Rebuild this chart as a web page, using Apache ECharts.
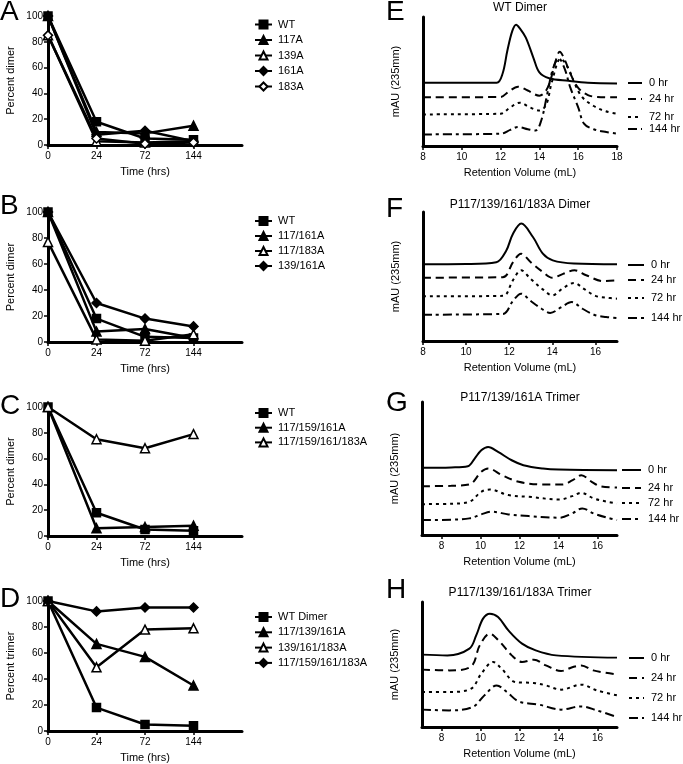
<!DOCTYPE html>
<html>
<head>
<meta charset="utf-8">
<script src="https://cdn.jsdelivr.net/npm/echarts@6/dist/echarts.min.js"></script>
<style>
html, body { margin: 0; padding: 0; background: #fff; }
#main { width: 683px; height: 764px; }
</style>
</head>
<body>
<div id="main"></div>
<script>
// time points for the left panels (last slot is the empty end of the axis)
var timeLabels = ['0', '24', '72', '144', ''];
var hourLabels = ['0 hr', '24 hr', '72 hr', '144 hr'];
var fTicks = [8, 10, 12, 14, 16];
var eTicks = [8, 10, 12, 14, 16, 18];

// A: single mutants, percent dimer
var aWT = [100, 18, 5, 4];
var a117 = [100, 10, 9, 15];
var a139 = [85, 3, 2, 3];
var a161 = [100, 8, 11, 3];
var a183 = [85, 5, 1, 2];

// B: double mutants
var bWT = [100, 18, 4, 3];
var b117161 = [100, 8, 10, 3];
var b117183 = [77, 2, 1, 6];
var b139161 = [100, 30, 18, 12];

// C: triple / quadruple
var cWT = [100, 18, 5, 4];
var c117159161 = [100, 6, 7, 8];
var c117159161183 = [100, 75, 68, 79];

// D: percent trimer
var dWT = [100, 18, 5, 4];
var d117139161 = [100, 67, 57, 35];
var d139161183 = [100, 49, 78, 79];
var d117159161183 = [100, 92, 95, 95];

// E: WT dimer chromatograms  [mL, signal]
var e0 = [[8, 49], [11.8, 49], [12.1, 56], [12.35, 74], [12.6, 89], [12.8, 94], [13.0, 91], [13.3, 84], [13.7, 68], [14.0, 57], [14.5, 52.5], [15.5, 50.5], [16.5, 49], [18, 48.5]];
var e24 = [[8, 37.7], [12.0, 38], [12.4, 42], [12.9, 46], [13.4, 43], [14.0, 39], [14.3, 42], [14.55, 50], [14.8, 64], [15.05, 73], [15.3, 67], [15.6, 56], [16.0, 45], [16.5, 39.5], [17, 38], [18, 37.7]];
var e72 = [[8, 24.5], [12.0, 25], [12.5, 30], [13.0, 33.6], [13.5, 30], [14.0, 27.5], [14.35, 32], [14.65, 50], [15.1, 67.7], [15.5, 60], [15.8, 49], [16.2, 38], [16.8, 31], [17.4, 27], [18, 25]];
var e144 = [[8, 9], [12, 9.5], [12.5, 12.5], [12.9, 14.7], [13.4, 13], [13.8, 12], [14.1, 20], [14.4, 40], [14.7, 60], [15.0, 68], [15.3, 60], [15.6, 45], [16.0, 30], [16.3, 17.3], [16.8, 13], [17.45, 10.8], [18, 9.6]];

// F: quadruple mutant dimer
var f0 = [[8, 59.4], [10, 59.6], [11.4, 61], [11.86, 70], [12.17, 83], [12.56, 91], [13.1, 80.6], [13.56, 67.7], [14.02, 62.5], [15, 60], [17, 59.4]];
var f24 = [[8, 49.1], [11.7, 49.4], [12.17, 61], [12.55, 67.7], [13.0, 61], [13.56, 53.5], [14.0, 49], [14.5, 52], [15.03, 54.8], [15.57, 51], [16.34, 46.5], [17, 47]];
var f72 = [[8, 34.6], [11.7, 35], [12.17, 47], [12.55, 54.8], [13.0, 48], [13.56, 40], [14.0, 35.4], [14.5, 41], [15.0, 45], [15.5, 40], [16.0, 35], [16.5, 33.6], [17, 32.8]];
var f144 = [[8, 20.4], [11.7, 21], [12.17, 31], [12.55, 36.7], [13.0, 31], [13.5, 25], [13.9, 21.7], [14.4, 26], [14.9, 30.2], [15.4, 25], [16.0, 20], [16.5, 18.6], [17, 17.8]];

// G: triple mutant trimer
var g0 = [[7, 50.5], [8.5, 50.8], [9.35, 51.7], [9.7, 57.5], [10.04, 63.7], [10.39, 66.2], [10.9, 62.5], [11.6, 56.2], [12.2, 52.5], [13.2, 50], [14.0, 49.2], [17, 48.7]];
var g24 = [[7, 36.7], [8.5, 37], [9.43, 38], [10.04, 47.5], [10.39, 50], [11.1, 45], [11.96, 40], [13.17, 38], [14.2, 38], [14.7, 41], [15.17, 45], [15.7, 40], [16.13, 36.7], [17, 35.7]];
var g72 = [[7, 23.2], [8.5, 23.5], [9.43, 25], [10.04, 32.5], [10.48, 34.2], [11.43, 30], [12.48, 28.7], [14.04, 26.7], [14.7, 29.2], [15.17, 31.7], [15.8, 27.5], [16.5, 25], [17, 23.7]];
var g144 = [[7, 11.2], [8.5, 11.5], [9.43, 12.5], [10.04, 15.5], [10.57, 17.5], [11.43, 15.5], [12.48, 14.2], [14.04, 13], [14.7, 16.2], [15.22, 20], [15.8, 16.2], [16.5, 13], [17, 11.2]];

// H: quadruple mutant trimer
var h0 = [[7, 57.9], [8.3, 57.3], [9.43, 62.7], [9.78, 73.3], [10.13, 86.7], [10.48, 90.7], [10.9, 88], [11.43, 77.3], [12.13, 66.7], [12.83, 61.3], [13.87, 57.3], [17, 55.5]];
var h24 = [[7, 45.9], [8.4, 45.3], [9.52, 48.5], [9.96, 65.3], [10.48, 74.7], [11.0, 68], [11.6, 57.3], [12.13, 52], [12.74, 53.9], [13.35, 49.3], [14.13, 44.8], [14.74, 48], [15.17, 49.3], [15.78, 45.3], [17, 42.1]];
var h72 = [[7, 28], [8.4, 28], [9.52, 30.7], [10.04, 42.7], [10.65, 52], [11.08, 46.7], [11.78, 36], [12.74, 35.2], [13.35, 33.3], [14.13, 29.9], [15.17, 33.9], [15.96, 29.3], [17, 25.3]];
var h144 = [[7, 13.9], [8.4, 13.3], [9.6, 16], [10.2, 25.3], [10.83, 33.3], [11.35, 28], [11.96, 20.5], [13.0, 17.9], [14.13, 13.9], [15.17, 16.5], [15.96, 13.3], [17, 8]];

var FONT = '"Liberation Sans", Arial, sans-serif';
var myChart = echarts.init(document.getElementById('main'), null, { renderer: 'canvas' });

var marks = {
    rect: { symbol: 'rect', size: 8, fill: '#000' },
    tri: { symbol: 'triangle', size: 9, fill: '#000' },
    otri: { symbol: 'triangle', size: 9, fill: '#fff' },
    dia: { symbol: 'diamond', size: 9, fill: '#000' },
    odia: { symbol: 'diamond', size: 9, fill: '#fff' }
};

var dashes = ['solid', [8, 5], [3, 4], [9, 4, 3, 4]];

var leftPanels = [
    { key: 'A', top: 16, height: 129, yName: 'Percent dimer', legendTop: 19, gap: 4.5,
      series: [['WT', aWT, 'rect'], ['117A', a117, 'tri'], ['139A', a139, 'otri'], ['161A', a161, 'dia'], ['183A', a183, 'odia']] },
    { key: 'B', top: 212, height: 130, yName: 'Percent dimer', legendTop: 215.5, gap: 4,
      series: [['WT', bWT, 'rect'], ['117/161A', b117161, 'tri'], ['117/183A', b117183, 'otri'], ['139/161A', b139161, 'dia']] },
    { key: 'C', top: 407, height: 129, yName: 'Percent dimer', legendTop: 407.5, gap: 3.7,
      series: [['WT', cWT, 'rect'], ['117/159/161A', c117159161, 'tri'], ['117/159/161/183A', c117159161183, 'otri']] },
    { key: 'D', top: 601, height: 130, yName: 'Percent trimer', legendTop: 611.5, gap: 4.3,
      series: [['WT Dimer', dWT, 'rect'], ['117/139/161A', d117139161, 'tri'], ['139/161/183A', d139161183, 'otri'], ['117/159/161/183A', d117159161183, 'dia']] }
];

var rightPanels = [
    { key: 'E', top: 17, height: 129, left: 423, width: 194, min: 8, max: 18, ticks: eTicks, title: 'WT Dimer', titleY: 8,
      curves: [e0, e24, e72, e144], legendX: 627, legendW: 14, legendY: [83, 99, 117, 129] },
    { key: 'F', top: 212, height: 129, left: 423, width: 194, min: 8, max: 17, ticks: fTicks, title: 'P117/139/161/183A Dimer', titleY: 205,
      curves: [f0, f24, f72, f144], legendX: 627, legendW: 16, legendY: [265, 280, 298, 318] },
    { key: 'G', top: 402, height: 133, left: 422, width: 195, min: 7, max: 17, ticks: fTicks, title: 'P117/139/161A Trimer', titleY: 398,
      curves: [g0, g24, g72, g144], legendX: 621, legendW: 19, legendY: [470, 488, 503, 519] },
    { key: 'H', top: 602, height: 125, left: 422, width: 195, min: 7, max: 17, ticks: fTicks, title: 'P117/139/161/183A Trimer', titleY: 593,
      curves: [h0, h24, h72, h144], legendX: 628, legendW: 15, legendY: [658, 678, 698, 718] }
];

var grids = [], xAxes = [], yAxes = [], series = [], legends = [], graphics = [];
var axisColor = '#000';

function stripName(n) { return n.split('|')[1]; }

leftPanels.forEach(function (p, i) {
    grids.push({ left: 48, top: p.top, width: 194, height: p.height, outerBoundsMode: 'none' });
    xAxes.push({
        gridIndex: i, type: 'category', data: timeLabels, boundaryGap: false,
        axisLine: { lineStyle: { color: axisColor, width: 3 } },
        axisTick: { length: 4, interval: function (idx) { return idx < 4; }, lineStyle: { color: axisColor, width: 1.5 } },
        axisLabel: { interval: function (idx) { return idx < 4; }, color: '#000', fontSize: 10, margin: 6, fontFamily: FONT },
        name: 'Time (hrs)', nameLocation: 'middle', nameGap: 21,
        nameTextStyle: { color: '#000', fontSize: 11, fontFamily: FONT }
    });
    yAxes.push({
        gridIndex: i, type: 'value', min: 0, max: 100, interval: 20,
        axisLine: { show: true, lineStyle: { color: axisColor, width: 3 } },
        axisTick: { show: true, length: 4, lineStyle: { color: axisColor, width: 1.5 } },
        axisLabel: { color: '#000', fontSize: 10, margin: 5, fontFamily: FONT },
        splitLine: { show: false },
        name: p.yName, nameLocation: 'middle', nameGap: 32,
        nameTextStyle: { color: '#000', fontSize: 11, fontFamily: FONT }
    });
    var names = [];
    p.series.forEach(function (s) {
        var m = marks[s[2]];
        var nm = p.key + '|' + s[0];
        names.push(nm);
        series.push({
            name: nm, type: 'line', xAxisIndex: i, yAxisIndex: i, data: s[1],
            symbol: m.symbol, symbolSize: m.size, clip: false,
            lineStyle: { color: '#000', width: 2.5 },
            itemStyle: { color: m.fill, borderColor: '#000', borderWidth: 1.5 },
            emphasis: { disabled: true }
        });
    });
    legends.push({
        left: 254, top: p.legendTop, orient: 'vertical', padding: 0,
        itemWidth: 17, itemHeight: 10, itemGap: p.gap, selectedMode: false,
        data: names, formatter: stripName,
        textStyle: { color: '#000', fontSize: 11, lineHeight: 11, fontFamily: FONT, padding: [0, 0, 0, 1] }
    });
    graphics.push({ type: 'text', x: 0, y: [12.5, 206, 406, 599][i],
        style: { text: p.key, font: '28px ' + FONT, fill: '#000', textVerticalAlign: 'middle' } });
});

rightPanels.forEach(function (p, j) {
    var i = j + 4;
    grids.push({ left: p.left, top: p.top, width: p.width, height: p.height, outerBoundsMode: 'none' });
    xAxes.push({
        gridIndex: i, type: 'value', min: p.min, max: p.max,
        axisLine: { lineStyle: { color: axisColor, width: 3 } },
        axisTick: { length: 4, customValues: p.ticks, lineStyle: { color: axisColor, width: 1.5 } },
        axisLabel: { customValues: p.ticks, color: '#000', fontSize: 10, margin: 6, fontFamily: FONT },
        splitLine: { show: false },
        name: 'Retention Volume (mL)', nameLocation: 'middle', nameGap: 21,
        nameTextStyle: { color: '#000', fontSize: 11, fontFamily: FONT }
    });
    yAxes.push({
        gridIndex: i, type: 'value', min: 0, max: 100,
        axisLine: { show: true, lineStyle: { color: axisColor, width: 3 } },
        axisTick: { show: false }, axisLabel: { show: false }, splitLine: { show: false },
        name: 'mAU (235mm)', nameLocation: 'middle', nameGap: 22,
        nameTextStyle: { color: '#000', fontSize: 11, fontFamily: FONT }
    });
    p.curves.forEach(function (c, k) {
        var nm = p.key + '|' + hourLabels[k];
        series.push({
            name: nm, type: 'line', xAxisIndex: i, yAxisIndex: i, data: c,
            smooth: 0.35, symbol: 'none',
            lineStyle: { color: '#000', width: 2, type: dashes[k] },
            itemStyle: { color: 'rgba(0,0,0,0)', opacity: 0 },
            emphasis: { disabled: true }
        });
        legends.push({
            left: p.legendX, top: p.legendY[k] - 5.5, orient: 'vertical', padding: 0,
            itemWidth: p.legendW, itemHeight: 10, selectedMode: false,
            itemStyle: { opacity: 0 },
            data: [nm], formatter: stripName,
            textStyle: { color: '#000', fontSize: 11, lineHeight: 11, fontFamily: FONT, padding: [0, 0, 0, 2] }
        });
    });
    graphics.push({ type: 'text', x: 386, y: [12, 209, 403, 590][j],
        style: { text: p.key, font: '28px ' + FONT, fill: '#000', textVerticalAlign: 'middle' } });
    graphics.push({ type: 'text', x: 520, y: p.titleY,
        style: { text: p.title, font: '12px ' + FONT, fill: '#000', textAlign: 'center', textVerticalAlign: 'middle' } });
});

var option = {
    animation: false,
    textStyle: { fontFamily: FONT },
    grid: grids,
    xAxis: xAxes,
    yAxis: yAxes,
    legend: legends,
    graphic: graphics,
    series: series
};

myChart.setOption(option);
</script>
</body>
</html>
